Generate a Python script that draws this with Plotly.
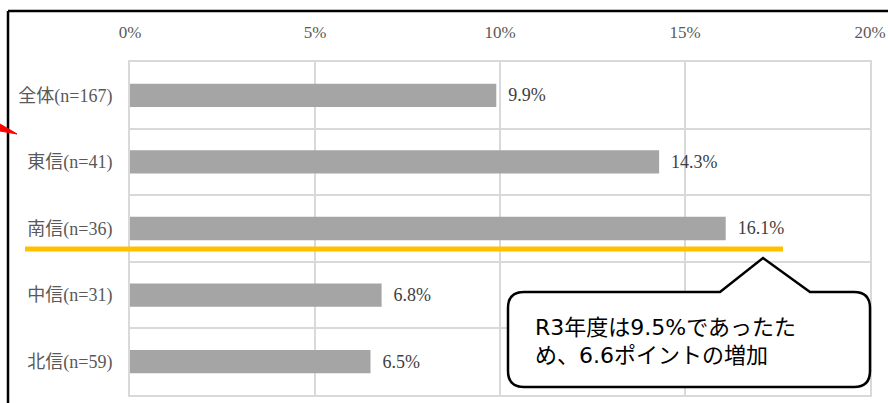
import plotly.graph_objects as go

# Survey share by region (%)
regions = ["全体(n=167)", "東信(n=41)", "南信(n=36)", "中信(n=31)", "北信(n=59)"]
shares = [9.9, 14.3, 16.1, 6.8, 6.5]
x_ticks = [0, 5, 10, 15, 20]
x_tick_labels = ["0%", "5%", "10%", "15%", "20%"]
note_lines = ["R3年度は9.5%であったた", "め、6.6ポイントの増加"]

W, H = 888, 403
L, R, T, B = 130, 18, 62, 8
PW, PH = W - L - R, H - T - B


def px(x):
    return (x - L) / PW


def py(y):
    return (H - B - y) / PH


SERIF = "Liberation Serif, 'Noto Sans CJK JP', serif"
SANS = "'DejaVu Sans', 'Noto Sans CJK JP', sans-serif"
GRID = "#D9D9D9"

fig = go.Figure(
    go.Bar(
        x=shares,
        y=regions,
        orientation="h",
        marker=dict(color="#A5A5A5", line=dict(width=0)),
        width=0.35,
        text=[f"  {v:.1f}%" for v in shares],
        textposition="outside",
        textfont=dict(family=SERIF, size=18, color="#404040"),
        cliponaxis=False,
        hoverinfo="skip",
    )
)

fig.update_layout(
    width=W,
    height=H,
    margin=dict(l=L, r=R, t=T, b=B, pad=0, autoexpand=False),
    paper_bgcolor="white",
    plot_bgcolor="white",
    showlegend=False,
    xaxis=dict(
        side="top",
        range=[0, 20],
        tickvals=x_ticks,
        ticktext=x_tick_labels,
        tickfont=dict(family=SERIF, size=17, color="#595959"),
        ticks="",
        ticklabelstandoff=15,
        showgrid=True,
        gridcolor=GRID,
        gridwidth=2,
        zeroline=False,
        showline=True,
        linecolor=GRID,
        linewidth=2,
        mirror=True,
        automargin=False,
        fixedrange=True,
    ),
    yaxis=dict(
        type="category",
        autorange="reversed",
        tickson="boundaries",
        ticks="",
        tickfont=dict(family=SERIF, size=18, color="#595959"),
        ticklabelstandoff=12,
        showgrid=True,
        gridcolor=GRID,
        gridwidth=2,
        showline=True,
        linecolor=GRID,
        linewidth=2,
        mirror=True,
        automargin=False,
        fixedrange=True,
    ),
)

shapes = []
# outer frame (top and left edges)
shapes.append(dict(type="line", xref="paper", yref="paper",
                   x0=px(8), y0=py(11), x1=px(W + 5), y1=py(11),
                   line=dict(color="black", width=2.5), layer="above"))
shapes.append(dict(type="line", xref="paper", yref="paper",
                   x0=px(8), y0=py(11), x1=px(8), y1=py(H + 5),
                   line=dict(color="black", width=2.5), layer="above"))
# red pointer wedge on the left edge
shapes.append(dict(type="path", xref="paper", yref="paper",
                   path=f"M {px(0)},{py(124)} L {px(17)},{py(134)} L {px(0)},{py(131)} Z",
                   fillcolor="#FF0000", line=dict(color="#FF0000", width=1), layer="above"))
# yellow highlight under 南信
shapes.append(dict(type="line", xref="paper", yref="paper",
                   x0=px(25), y0=py(249), x1=px(783), y1=py(249),
                   line=dict(color="#FFC000", width=5), layer="above"))

# speech-bubble callout
x0, x1, y0, y1, r = 508, 870, 292, 387, 16
bx0, bx1, ax, ay = 720, 810, 763, 258
pts = (
    f"M {px(x0 + r)},{py(y0)} "
    f"L {px(bx0)},{py(y0)} L {px(ax)},{py(ay)} L {px(bx1)},{py(y0)} "
    f"L {px(x1 - r)},{py(y0)} Q {px(x1)},{py(y0)} {px(x1)},{py(y0 + r)} "
    f"L {px(x1)},{py(y1 - r)} Q {px(x1)},{py(y1)} {px(x1 - r)},{py(y1)} "
    f"L {px(x0 + r)},{py(y1)} Q {px(x0)},{py(y1)} {px(x0)},{py(y1 - r)} "
    f"L {px(x0)},{py(y0 + r)} Q {px(x0)},{py(y0)} {px(x0 + r)},{py(y0)} Z"
)
shapes.append(dict(type="path", xref="paper", yref="paper", path=pts,
                   fillcolor="white", line=dict(color="black", width=2.5),
                   layer="above"))
fig.update_layout(shapes=shapes)

for line, yc in zip(note_lines, [327, 355]):
    fig.add_annotation(
        xref="paper", yref="paper",
        x=px(533), y=py(yc),
        xanchor="left", yanchor="middle",
        text=line,
        align="left",
        showarrow=False,
        font=dict(family=SANS, size=22, color="black"),
    )

fig.write_html("out.html")
